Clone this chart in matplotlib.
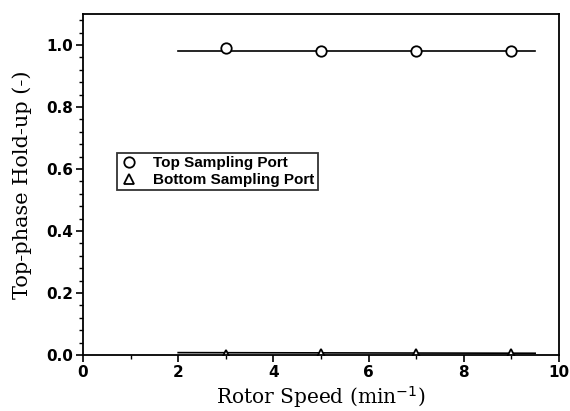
import matplotlib
matplotlib.use("Agg")
import matplotlib.pyplot as plt
from matplotlib.ticker import MultipleLocator

# Data
speed = [3, 5, 7, 9]
top_port = [0.99, 0.98, 0.98, 0.98]
bottom_port = [0.0, 0.005, 0.005, 0.005]
fit_x = [2.0, 9.5]
top_fit = [0.98, 0.98]
bottom_fit = [0.008, 0.006]

fig = plt.figure(figsize=(5.7, 4.11), dpi=100)
ax = fig.add_axes([0.1456, 0.136, 0.835, 0.83])

ax.plot(fit_x, top_fit, color="black", lw=1.2)
ax.plot(fit_x, bottom_fit, color="black", lw=1.2)
ax.plot(speed, top_port, "o", mfc="white", mec="black", ms=7.5, mew=1.3,
        linestyle="none", label="Top Sampling Port")
ax.plot(speed, bottom_port, "^", mfc="white", mec="black", ms=6.5, mew=1.3,
        linestyle="none", label="Bottom Sampling Port")

ax.set_xlim(0, 10)
ax.set_ylim(0, 1.1)
ax.xaxis.set_major_locator(MultipleLocator(2))
ax.xaxis.set_minor_locator(MultipleLocator(1))
ax.yaxis.set_major_locator(MultipleLocator(0.2))
ax.yaxis.set_minor_locator(MultipleLocator(0.04))
ax.yaxis.set_major_formatter(plt.FormatStrFormatter("%.1f"))
ax.tick_params(which="both", direction="out", top=False, right=False)
ax.tick_params(which="major", length=5, width=1.2, labelsize=11, pad=2)
ax.tick_params(which="minor", length=3, width=1)
for lbl in ax.get_xticklabels() + ax.get_yticklabels():
    lbl.set_fontweight("bold")
for s in ax.spines.values():
    s.set_linewidth(1.3)

ax.set_xlabel("Rotor Speed (min$^{-1}$)", family="DejaVu Serif", fontsize=14.5,
              labelpad=3)
ax.set_ylabel("Top-phase Hold-up (-)", family="DejaVu Serif", fontsize=15,
              labelpad=10)

leg = ax.legend(loc="upper left", bbox_to_anchor=(0.071, 0.592), borderaxespad=0,
                frameon=True, fancybox=False, edgecolor="black",
                prop={"family": "Liberation Sans", "weight": "bold", "size": 11},
                handletextpad=1.0, borderpad=0.2, labelspacing=0.2,
                handlelength=1.2)
leg.get_frame().set_linewidth(1.3)

fig.savefig("out.png", dpi=100)
